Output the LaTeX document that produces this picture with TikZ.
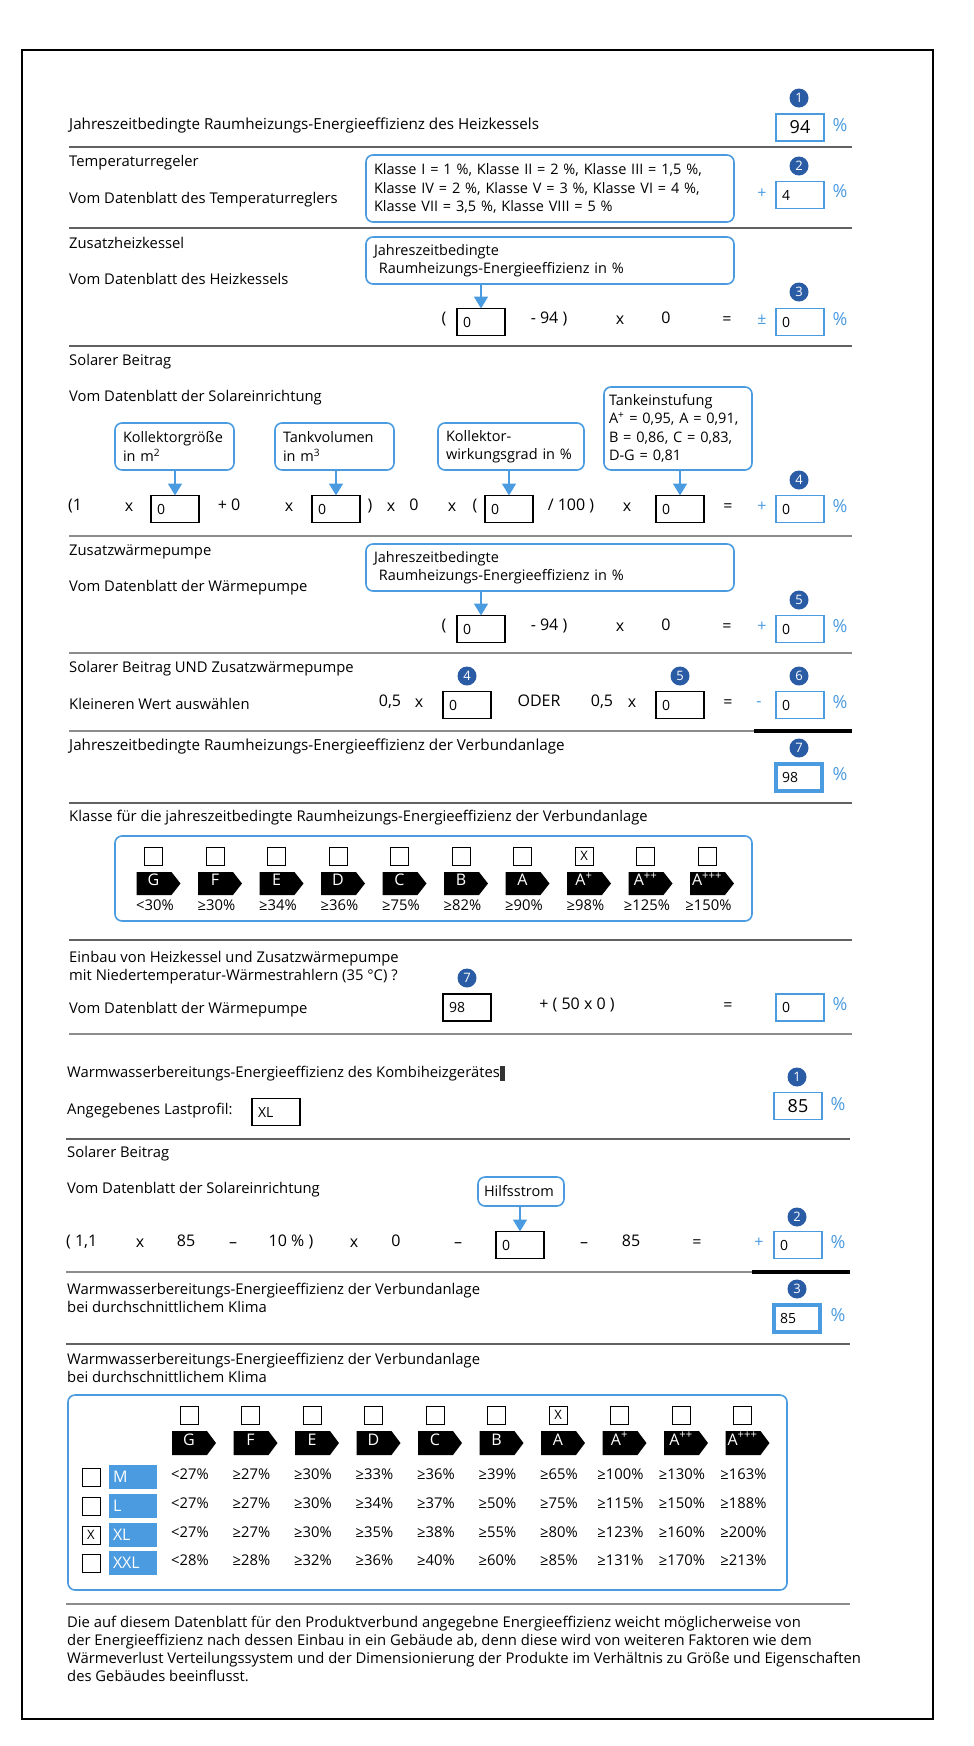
\documentclass[tikz,border=0pt]{standalone}
\usepackage{fontspec}
\setmainfont{Open Sans}
\usetikzlibrary{arrows.meta,positioning,calc}
\definecolor{lblue}{HTML}{4A9BE0}
\definecolor{dblue}{HTML}{2A5BA5}

\begin{document}
\begin{tikzpicture}[
  x=1pt, y=-1pt, font=\fontsize{14.8}{18}\selectfont,
  lbl/.style={anchor=mid west, inner sep=0pt, align=left},
  lbl2/.style={anchor=north west, inner sep=0pt, align=left},
  tok/.style={anchor=mid, inner sep=0pt, font=\fontsize{16}{18}\selectfont},
  sgn/.style={tok, text=lblue},
  pct/.style={anchor=mid, inner sep=0pt, text=lblue, font=\fontsize{18}{18}\selectfont},
  inbox/.style={draw=black, line width=1.6pt, minimum width=48pt, minimum height=27pt,
    text width=36pt, inner xsep=6pt, inner ysep=0pt, outer sep=0pt, align=left,
    font=\fontsize{14}{14}\selectfont},
  res/.style={inbox, draw=lblue},
  resb/.style={res, line width=4pt, minimum width=46pt, minimum height=27pt, text width=34pt},
  badge/.style={circle, fill=dblue, text=white, inner sep=0pt, minimum size=19pt,
    font=\fontsize{13}{13}\selectfont},
  call/.style={draw=lblue, line width=1.6pt, rounded corners=7pt, anchor=north west,
    align=left, inner xsep=8pt, inner ysep=0pt, outer sep=0pt,
    font=\fontsize{14.5}{18.5}\selectfont},
  arr/.style={-{Triangle[width=14pt,length=12pt]}, draw=lblue, line width=1.6pt},
  sep/.style={draw=black!62, line width=1.4pt},
  sepl/.style={draw=black!45, line width=2pt},
  sepk/.style={draw=black, line width=4.5pt},
  chk/.style={draw, line width=0.8pt, minimum size=18pt, inner sep=0pt,
    font=\fontsize{13}{13}\selectfont},
  cls/.style={text=white, inner sep=0pt, anchor=mid, font=\fontsize{16}{16}\selectfont},
  val/.style={anchor=mid, inner sep=0pt},
  sz/.style={fill=lblue, minimum width=48pt, minimum height=24pt, text width=40pt,
    inner xsep=4pt, inner ysep=0pt, text=white, align=left, font=\fontsize{16}{16}\selectfont}
]
\useasboundingbox (0,0) rectangle (974,1746);
\draw[line width=1.6pt] (22,50) rectangle (933,1719);

% --- Raumheizung des Heizkessels
\node[badge] (b1) at (799,98) {1};
\node[lbl, font=\fontsize{15.2}{18}\selectfont] (t1) at (69,127) {Jahreszeitbedingte Raumheizungs-Energieeffizienz des Heizkessels};
\node[res, align=center, font=\fontsize{18}{18}\selectfont] (r1) at (800,127.5) {94};
\node[pct] at (840,129) {\%};
\draw[sep] (69,147) -- (852,147);

% --- Temperaturregler
\node[lbl] (t2a) at (69,164) {Temperaturregeler};
\node[lbl] (t2b) at (69,201) {Vom Datenblatt des Temperaturreglers};
\node[call, minimum width=368, minimum height=67, text width=352] (c1) at (366,155)
  {Klasse I = 1 \%, Klasse II = 2 \%, Klasse III = 1,5 \%,\\
   Klasse IV = 2 \%, Klasse V = 3 \%, Klasse VI = 4 \%,\\
   Klasse VII = 3,5 \%, Klasse VIII = 5 \%};
\node[badge] (b2) at (799,166) {2};
\node[sgn] at (762,196) {+};
\node[res] (r2) at (800,195) {4};
\node[pct] at (840,195) {\%};
\draw[sep] (69,228) -- (852,228);

% --- Zusatzheizkessel
\node[lbl] (t3a) at (69,246) {Zusatzheizkessel};
\node[lbl] (t3b) at (69,282) {Vom Datenblatt des Heizkessels};
\node[call, minimum width=368, minimum height=47, text width=352] (c2) at (366,237)
  {Jahreszeitbedingte\\\ Raumheizungs-Energieeffizienz in \%};
\node[inbox] (e3) at (481,322) {0};
\draw[arr] (e3.north |- c2.south) -- (e3.north);
\node[tok] at (444,321) {(};
\node[tok] at (549,321) {- 94 )};
\node[tok] at (620,322) {x};
\node[tok] at (666,321) {0};
\node[tok] at (727,322) {=};
\node[sgn] at (762,322) {±};
\node[badge] (b3) at (799,292) {3};
\node[res] (r3) at (800,322) {0};
\node[pct] at (840,323) {\%};
\draw[sep] (69,346) -- (852,346);

% --- Solarer Beitrag
\node[lbl] (t4a) at (69,363) {Solarer Beitrag};
\node[lbl] (t4b) at (69,399) {Vom Datenblatt der Solareinrichtung};
\node[call, minimum width=119, minimum height=47, text width=103] (c3) at (115,423)
  {Kollektorgröße\\in m\textsuperscript{2}};
\node[call, minimum width=119, minimum height=47, text width=103] (c4) at (275,423)
  {Tankvolumen\\in m\textsuperscript{3}};
\node[call, minimum width=146, minimum height=47, text width=130] (c5) at (438,423)
  {Kollektor-\\wirkungsgrad in \%};
\node[call, minimum width=148, minimum height=83, text width=138, inner xsep=5pt] (c6) at (604,387)
  {Tankeinstufung\\A\textsuperscript{+} = 0,95, A = 0,91,\\B = 0,86, C = 0,83,\\D-G = 0,81};
\node[inbox] (e4a) at (175,509) {0};
\node[inbox] (e4b) at (336,509) {0};
\node[inbox] (e4c) at (509,509) {0};
\node[inbox] (e4d) at (680,509) {0};
\draw[arr] (e4a.north |- c3.south) -- (e4a.north);
\draw[arr] (e4b.north |- c4.south) -- (e4b.north);
\draw[arr] (e4c.north |- c5.south) -- (e4c.north);
\draw[arr] (e4d.north |- c6.south) -- (e4d.north);
\node[tok, anchor=mid west] at (68,508) {(1};
\node[tok] at (129,509) {x};
\node[tok] at (229,508) {+ 0};
\node[tok] at (289,509) {x};
\node[tok] at (370,508) {)};
\node[tok] at (391,509) {x};
\node[tok] at (414,508) {0};
\node[tok] at (452,509) {x};
\node[tok] at (475,508) {(};
\node[tok] at (571,508) {/ 100 )};
\node[tok] at (627,509) {x};
\node[tok] at (728,509) {=};
\node[sgn] at (762,509) {+};
\node[badge] (b4) at (799,480) {4};
\node[res] (r4) at (800,509) {0};
\node[pct] at (840,510) {\%};
\draw[sepl] (69,536) -- (852,536);

% --- Zusatzwaermepumpe
\node[lbl] (t5a) at (69,553) {Zusatzwärmepumpe};
\node[lbl] (t5b) at (69,589) {Vom Datenblatt der Wärmepumpe};
\node[call, minimum width=368, minimum height=47, text width=352] (c7) at (366,544)
  {Jahreszeitbedingte\\\ Raumheizungs-Energieeffizienz in \%};
\node[inbox] (e5) at (481,629) {0};
\draw[arr] (e5.north |- c7.south) -- (e5.north);
\node[tok] at (444,628) {(};
\node[tok] at (549,628) {- 94 )};
\node[tok] at (620,629) {x};
\node[tok] at (666,628) {0};
\node[tok] at (727,629) {=};
\node[sgn] at (762,629) {+};
\node[badge] (b5) at (799,600) {5};
\node[res] (r5) at (800,629) {0};
\node[pct] at (840,630) {\%};
\draw[sepl] (69,653) -- (852,653);

% --- Solarer Beitrag UND Zusatzwaermepumpe
\node[lbl] (t6a) at (69,670) {Solarer Beitrag UND Zusatzwärmepumpe};
\node[lbl] (t6b) at (69,707) {Kleineren Wert auswählen};
\node[badge] (b6a) at (467,676) {4};
\node[badge] (b6b) at (680,676) {5};
\node[badge] (b6) at (799,676) {6};
\node[tok] at (390,704) {0,5};
\node[tok] at (419,705) {x};
\node[inbox] (e6a) at (467,705) {0};
\node[tok] at (539,704) {ODER};
\node[tok] at (602,704) {0,5};
\node[tok] at (632,705) {x};
\node[inbox] (e6b) at (680,705) {0};
\node[tok] at (728,705) {=};
\node[sgn] at (759,704) {-};
\node[res] (r6) at (800,705) {0};
\node[pct] at (840,706) {\%};
\draw[sepl] (69,731) -- (754,731);
\draw[sepk] (754,731) -- (852,731);

% --- Verbundanlage Raumheizung
\node[lbl, font=\fontsize{15.2}{18}\selectfont] (t7) at (69,748) {Jahreszeitbedingte Raumheizungs-Energieeffizienz der Verbundanlage};
\node[badge] (b7) at (799,748) {7};
\node[resb] (r7) at (799,777.5) {98};
\node[pct] at (840,778) {\%};
\draw[sep] (69,803) -- (852,803);

% --- Klasse Raumheizung
\node[lbl] (t8) at (69,819) {Klasse für die jahreszeitbedingte Raumheizungs-Energieeffizienz der Verbundanlage};
\draw[draw=lblue, line width=1.6pt, rounded corners=7pt] (115,836) rectangle (752,921);
\foreach \lab [count=\i from 0] in {G,F,E,D,C,B,A,A\textsuperscript{+},A\textsuperscript{++},A\textsuperscript{+++}} {
  \pgfmathsetmacro\cx{153.5+61.5*\i}
  \node[chk] (ka\i) at (\cx,856) {\ifnum\i=7 X\fi};
  \fill (\cx-17,872) -- (\cx+18,872) -- (\cx+27,883.5) -- (\cx+18,895) -- (\cx-17,895) -- cycle;
  \node[cls] (la\i) at (\cx,883) {\lab};
}
\foreach \p [count=\i from 0] in {<30\%,≥30\%,≥34\%,≥36\%,≥75\%,≥82\%,≥90\%,≥98\%,≥125\%,≥150\%}
  \node[val] (pa\i) at (155+61.5*\i,908) {\p};
\draw[sep] (69,940) -- (852,940);

% --- Niedertemperatur
\node[lbl2] (t9a) at (69,951) {Einbau von Heizkessel und Zusatzwärmepumpe\\mit Niedertemperatur-Wärmestrahlern (35 °C) ?};
\node[lbl] (t9b) at (69,1011) {Vom Datenblatt der Wärmepumpe};
\node[badge] (b9) at (467,978) {7};
\node[inbox] (e9) at (467,1007.5) {98};
\node[tok] at (577,1007) {+ ( 50 x 0 )};
\node[tok] at (728,1008) {=};
\node[res] (r9) at (800,1007.5) {0};
\node[pct] at (840,1008) {\%};
\draw[sepl] (69,1034) -- (852,1034);

% --- Warmwasserbereitung
\node[lbl] (w1) at (67,1075) {Warmwasserbereitungs-Energieeffizienz des Kombiheizgerätes{\color{black!80}\rule[-3pt]{5pt}{15pt}}};
\node[badge] (bw1) at (797,1077) {1};
\node[lbl] (w1b) at (67,1112) {Angegebenes Lastprofil:};
\node[inbox] (ew1) at (276,1112) {XL};
\node[res, align=center, font=\fontsize{18}{18}\selectfont] (rw1) at (798,1106) {85};
\node[pct] at (838,1108) {\%};
\draw[sep] (66,1139) -- (850,1139);

% --- Solarer Beitrag Warmwasser
\node[lbl] (w2a) at (67,1155) {Solarer Beitrag};
\node[lbl] (w2b) at (67,1191) {Vom Datenblatt der Solareinrichtung};
\node[call, minimum width=86, minimum height=29, text width=74, inner xsep=6pt] (c8) at (478,1177) {Hilfsstrom};
\node[inbox] (ew2) at (520,1245) {0};
\draw[arr] (ew2.north |- c8.south) -- (ew2.north);
\node[tok, anchor=mid west] at (66,1244) {( 1,1};
\node[tok] at (140,1245) {x};
\node[tok] at (186,1244) {85};
\node[tok] at (233,1245) {–};
\node[tok] at (291,1244) {10 \% )};
\node[tok] at (354,1245) {x};
\node[tok] at (396,1244) {0};
\node[tok] at (458,1245) {–};
\node[tok] at (584,1245) {–};
\node[tok] at (631,1244) {85};
\node[tok] at (697,1245) {=};
\node[sgn] at (759,1245) {+};
\node[badge] (bw2) at (797,1217) {2};
\node[res] (rw2) at (798,1245) {0};
\node[pct] at (838,1246) {\%};
\draw[sepl] (66,1272) -- (752,1272);
\draw[sepk] (752,1272) -- (850,1272);

% --- Verbundanlage Warmwasser
\node[lbl2] (w3) at (67,1283) {Warmwasserbereitungs-Energieeffizienz der Verbundanlage\\bei durchschnittlichem Klima};
\node[badge] (bw3) at (797,1289) {3};
\node[resb] (rw3) at (797,1318) {85};
\node[pct] at (838,1319) {\%};
\draw[sep] (66,1344) -- (850,1344);

% --- Klasse Warmwasser
\node[lbl2] (w4) at (67,1353) {Warmwasserbereitungs-Energieeffizienz der Verbundanlage\\bei durchschnittlichem Klima};
\draw[draw=lblue, line width=1.6pt, rounded corners=7pt] (68,1395) rectangle (787,1590);
\foreach \lab [count=\i from 0] in {G,F,E,D,C,B,A,A\textsuperscript{+},A\textsuperscript{++},A\textsuperscript{+++}} {
  \pgfmathsetmacro\cx{189+61.5*\i}
  \node[chk] (kb\i) at (\cx,1415) {\ifnum\i=6 X\fi};
  \fill (\cx-17,1431) -- (\cx+18,1431) -- (\cx+27,1443) -- (\cx+18,1455) -- (\cx-17,1455) -- cycle;
  \node[cls] (lb\i) at (\cx,1442.5) {\lab};
}
\node[chk] (qm) at (91,1477) {};
\node[chk] (ql) at (91,1506) {};
\node[chk] (qxl) at (91,1535) {X};
\node[chk] (qxxl) at (91,1563) {};
\node[sz] (sm) at (133,1477) {M};
\node[sz] (sl) at (133,1506) {L};
\node[sz] (sxl) at (133,1535) {XL};
\node[sz] (sxxl) at (133,1563) {XXL};
\foreach \v [count=\i from 0] in {<27\%,≥27\%,≥30\%,≥33\%,≥36\%,≥39\%,≥65\%,≥100\%,≥130\%,≥163\%}
  \node[val] (vm\i) at (190+61.5*\i,1477) {\v};
\foreach \v [count=\i from 0] in {<27\%,≥27\%,≥30\%,≥34\%,≥37\%,≥50\%,≥75\%,≥115\%,≥150\%,≥188\%}
  \node[val] (vl\i) at (190+61.5*\i,1506) {\v};
\foreach \v [count=\i from 0] in {<27\%,≥27\%,≥30\%,≥35\%,≥38\%,≥55\%,≥80\%,≥123\%,≥160\%,≥200\%}
  \node[val] (vxl\i) at (190+61.5*\i,1535) {\v};
\foreach \v [count=\i from 0] in {<28\%,≥28\%,≥32\%,≥36\%,≥40\%,≥60\%,≥85\%,≥131\%,≥170\%,≥213\%}
  \node[val] (vxxl\i) at (190+61.5*\i,1563) {\v};
\draw[sepl] (66,1604) -- (850,1604);

% --- Hinweis
\node[lbl2] (note) at (67,1616) {Die auf diesem Datenblatt für den Produktverbund angegebne Energieeffizienz weicht möglicherweise von\\
der Energieeffizienz nach dessen Einbau in ein Gebäude ab, denn diese wird von weiteren Faktoren wie dem\\
Wärmeverlust Verteilungssystem und der Dimensionierung der Produkte im Verhältnis zu Größe und Eigenschaften\\
des Gebäudes beeinflusst.};
\end{tikzpicture}
\end{document}
